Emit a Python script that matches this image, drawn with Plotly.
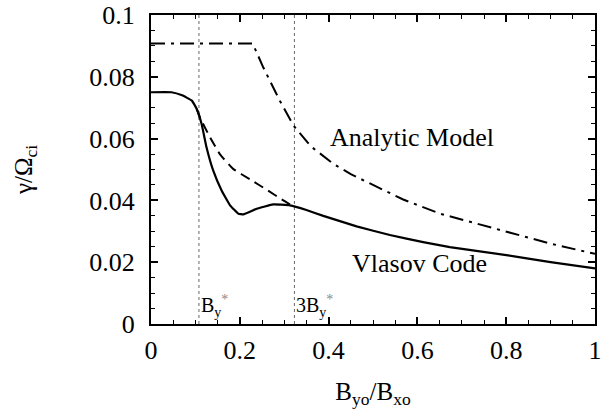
import plotly.graph_objects as go

# Analytic model (dash-dot)
x_analytic = [0.0, 0.229, 0.253, 0.29, 0.321, 0.36, 0.411, 0.45, 0.5, 0.568, 0.651, 0.7, 0.8, 0.838, 0.9, 1.0]
y_analytic = [0.0908, 0.0908, 0.0830, 0.0723, 0.0642, 0.0575, 0.0518, 0.0485, 0.0450, 0.0403, 0.0357, 0.0338, 0.0298, 0.0283, 0.0260, 0.0227]

# Vlasov code (solid)
x_vlasov = [0.0, 0.046, 0.07, 0.092, 0.103, 0.114, 0.125, 0.14, 0.159, 0.178, 0.197, 0.208, 0.238, 0.275, 0.313, 0.35, 0.388, 0.463, 0.538, 0.613, 0.673, 0.8, 0.9, 1.0]
y_vlasov = [0.0750, 0.0750, 0.0740, 0.0723, 0.0696, 0.0647, 0.0572, 0.0497, 0.0432, 0.0384, 0.0357, 0.0355, 0.0373, 0.0387, 0.0384, 0.0369, 0.0350, 0.0316, 0.0288, 0.0265, 0.0249, 0.0223, 0.0200, 0.0180]

# Dashed intermediate curve
x_dashed = [0.103, 0.110, 0.133, 0.155, 0.185, 0.223, 0.26, 0.298, 0.318]
y_dashed = [0.0696, 0.0669, 0.0604, 0.0550, 0.0502, 0.0468, 0.0435, 0.0400, 0.0383]

# Reference field values
by_star = [0.108, 0.323]
by_labels = ["B<sub>y</sub><sup><span style='color:#888'>*</span></sup>",
             "3B<sub>y</sub><sup><span style='color:#888'>*</span></sup>"]

x_ticks = [0, 0.2, 0.4, 0.6, 0.8, 1]
x_ticktext = ["0", "0.2", "0.4", "0.6", "0.8", "1"]
y_ticks = [0, 0.02, 0.04, 0.06, 0.08, 0.1]
y_ticktext = ["0", "0.02", "0.04", "0.06", "0.08", "0.1"]

FONT = "Liberation Serif, Times New Roman, serif"
fig = go.Figure()

for xv in by_star:
    fig.add_trace(go.Scatter(x=[xv, xv], y=[0, 0.1], mode="lines",
                             line=dict(color="#666", width=1, dash="3px,3px"),
                             showlegend=False, hoverinfo="skip"))

fig.add_trace(go.Scatter(x=x_analytic, y=y_analytic, mode="lines",
                         line=dict(color="black", width=2, dash="14px,6px,3px,6px"),
                         showlegend=False))
fig.add_trace(go.Scatter(x=x_dashed, y=y_dashed, mode="lines",
                         line=dict(color="black", width=2, dash="10px,6px", shape="spline", smoothing=0.4),
                         showlegend=False))
fig.add_trace(go.Scatter(x=x_vlasov, y=y_vlasov, mode="lines",
                         line=dict(color="black", width=2.2, shape="spline", smoothing=0.3),
                         showlegend=False))

fig.add_annotation(x=0.587, y=0.0603, text="Analytic Model", showarrow=False,
                   font=dict(family=FONT, size=26, color="black"))
fig.add_annotation(x=0.604, y=0.0197, text="Vlasov Code", showarrow=False,
                   font=dict(family=FONT, size=26, color="black"))
for xv, lab in zip(by_star, by_labels):
    fig.add_annotation(x=xv, y=0.0058, text=lab, showarrow=False, xanchor="left",
                       xshift=0, font=dict(family=FONT, size=20, color="black"))

for ax in (fig.update_xaxes, fig.update_yaxes):
    ax(showline=True, linecolor="black", linewidth=2, mirror="ticks",
       ticks="inside", ticklen=7, tickwidth=1.5, tickcolor="black",
       showgrid=False, zeroline=False, automargin=False,
       tickfont=dict(family=FONT, size=26, color="black"))

fig.update_xaxes(range=[0, 1], tickvals=x_ticks, ticktext=x_ticktext, ticklabelstandoff=2,
                 minor=dict(ticks="inside", ticklen=4, tickwidth=1.2, tickcolor="black",
                            tickvals=[i * 0.05 for i in range(21)]),
                 title=dict(text="B<sub>yo</sub>/B<sub>xo</sub>", font=dict(family=FONT, size=25, color="black"), standoff=20))
fig.update_yaxes(range=[0, 0.1], tickvals=y_ticks, ticktext=y_ticktext, ticklabelstandoff=9,
                 minor=dict(ticks="inside", ticklen=4, tickwidth=1.2, tickcolor="black",
                            tickvals=[i * 0.005 for i in range(21)]),
                 title=dict(text="γ/Ω<sub>ci</sub>", font=dict(family=FONT, size=25, color="black"), standoff=50))

fig.update_layout(width=615, height=409, margin=dict(l=151, r=20, t=15, b=85, autoexpand=False),
                  plot_bgcolor="white", paper_bgcolor="white",
                  font=dict(family=FONT, color="black"))

fig.write_html("out.html")
